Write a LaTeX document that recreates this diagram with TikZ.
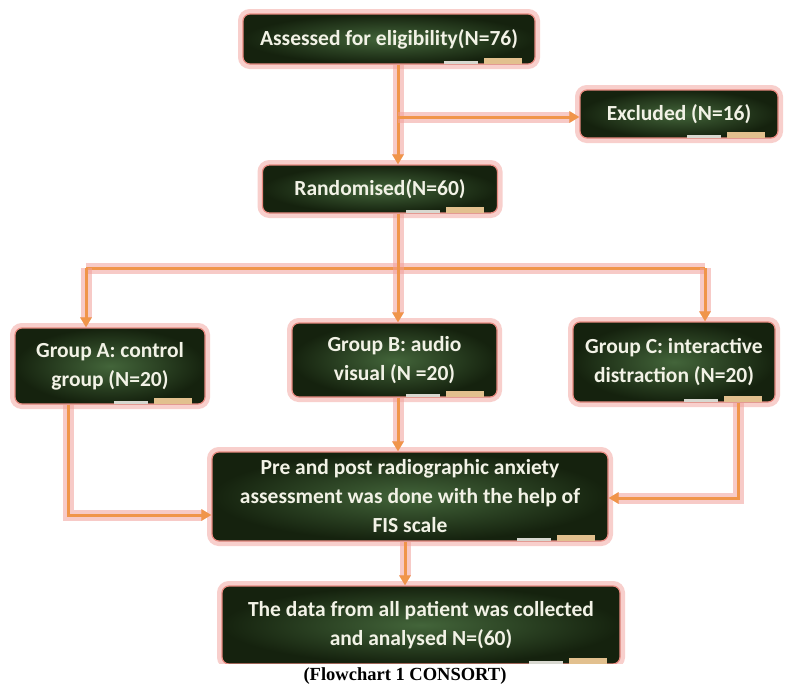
\documentclass[tikz,border=0pt]{standalone}
\usepackage{fontspec}
\setmainfont{Carlito}
\newfontfamily\capfont{Liberation Serif}
\usetikzlibrary{arrows.meta,calc}
\definecolor{boardin}{HTML}{43653A}
\definecolor{boardout}{HTML}{15220E}
\definecolor{glow}{HTML}{F2A09A}
\definecolor{edge}{HTML}{E88A80}
\definecolor{flow}{HTML}{F0954A}
\definecolor{chalktext}{HTML}{F2F2E6}
\definecolor{eraser}{HTML}{E2C08E}
\definecolor{chalk}{HTML}{D8D8D0}
\begin{document}
\begin{tikzpicture}[x=1pt,y=-1pt,
  board/.style={rectangle, rounded corners=7pt, inner color=boardin, outer color=boardout,
    draw=edge, line width=1.2pt, preaction={draw=glow, line width=10pt, opacity=0.5},
    text=chalktext, font=\bfseries\fontsize{21.5}{29}\selectfont, align=center, inner sep=0pt},
  flowline/.style={draw=flow, line width=3pt, preaction={draw=glow, line width=11pt, opacity=0.55}},
  flowarrow/.style={flowline, -{Triangle[length=10pt,width=11pt]}}]
\useasboundingbox (0,0) rectangle (785,688);
\fill[white] (0,0) rectangle (785,688);

% boards
\node[board, minimum width=292pt, minimum height=50pt] (assess) at (389,39) {Assessed for eligibility(N=76)};
\node[board, minimum width=198pt, minimum height=48pt] (excl) at (679,114) {Excluded (N=16)};
\node[board, minimum width=235pt, minimum height=48pt] (rand) at (380,189) {Randomised(N=60)};
\node[board, minimum width=190pt, minimum height=76pt] (ga) at (110,366) {Group A: control\\group (N=20)};
\node[board, minimum width=205pt, minimum height=74pt] (gb) at (394.5,360) {Group B: audio\\visual (N =20)};
\node[board, minimum width=202pt, minimum height=80pt] (gc) at (674,362) {Group C: interactive\\distraction (N=20)};
\node[board, minimum width=396pt, minimum height=89pt] (pre) at (410,496.5) {Pre and post radiographic anxiety\\assessment was done with the help of\\FIS scale};
\node[board, minimum width=398pt, minimum height=78pt] (data) at (421,625) {The data from all patient was collected\\and analysed N=(60)};

% chalk trays
\foreach \n in {assess,excl,rand,ga,gb,gc,pre,data}{
  \fill[eraser] ($(\n.south east)+(-52,-7)$) rectangle ($(\n.south east)+(-14,-1)$);
  \fill[chalk] ($(\n.south east)+(-92,-4)$) rectangle ($(\n.south east)+(-58,-1)$);
}

% connectors
\coordinate (trunk) at (398,0);
\coordinate (exj) at (398,117);
\coordinate (la) at (86,268);
\coordinate (ra) at (705,268);
\coordinate (lj) at (68,515);
\coordinate (rj) at (738,498);
\coordinate (low) at (405,0);

\draw[flowarrow] (assess.south -| trunk) -- (rand.north -| trunk);
\draw[flowarrow] (exj) -- (exj -| excl.west);
\draw[flowline] (la) -- (ra);
\draw[flowarrow] (rand.south -| trunk) -- (gb.north -| trunk);
\draw[flowarrow] (la) -- (la |- ga.north);
\draw[flowarrow] (ra) -- (ra |- gc.north);
\draw[flowarrow] (ga.south -| lj) -- (lj) -- (lj -| pre.west);
\draw[flowarrow] (gc.south -| rj) -- (rj) -- (rj -| pre.east);
\draw[flowarrow] (gb.south -| trunk) -- (pre.north -| trunk);
\draw[flowarrow] (pre.south -| low) -- (data.north -| low);

% caption
\fill[white] (200,664) rectangle (640,688);
\node[font=\capfont\bfseries\fontsize{18.5}{22}\selectfont, inner sep=0pt] (cap) at (405,676) {(Flowchart 1 CONSORT)};
\end{tikzpicture}
\end{document}
